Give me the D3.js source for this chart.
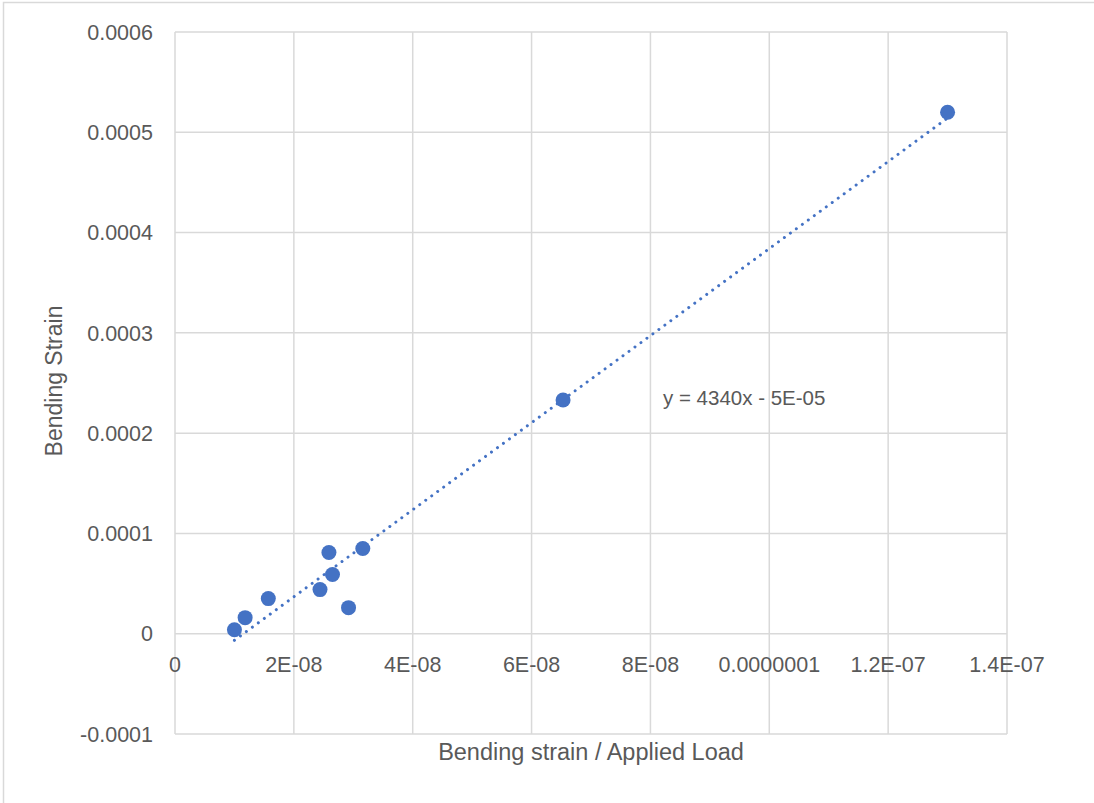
<!DOCTYPE html>
<html>
<head>
<meta charset="utf-8">
<script src="https://cdn.jsdelivr.net/npm/d3@7"></script>
<style>
  body { margin: 0; background: #fff; }
  text { font-family: "Liberation Sans", Arial, sans-serif; fill: #595959; }
</style>
</head>
<body>
<div id="chart"></div>
<script>
// values
var xVals = [1.0e-8, 1.18e-8, 1.57e-8, 2.44e-8, 2.59e-8, 2.65e-8, 2.92e-8, 3.16e-8, 6.53e-8, 1.30e-7];
var yVals = [4e-6, 1.6e-5, 3.5e-5, 4.4e-5, 8.1e-5, 5.9e-5, 2.6e-5, 8.5e-5, 2.33e-4, 5.2e-4];
var xTicks = [0, 2e-8, 4e-8, 6e-8, 8e-8, 1e-7, 1.2e-7, 1.4e-7];
var xTickLabels = ["0", "2E-08", "4E-08", "6E-08", "8E-08", "0.0000001", "1.2E-07", "1.4E-07"];
var yTicks = [-0.0001, 0, 0.0001, 0.0002, 0.0003, 0.0004, 0.0005, 0.0006];
var yTickLabels = ["-0.0001", "0", "0.0001", "0.0002", "0.0003", "0.0004", "0.0005", "0.0006"];
var trendSlope = 4340;
var trendIntercept = -5e-5;
var trendLabel = "y = 4340x - 5E-05";

var w = 1094, h = 803;
// plot area edges ("top" is taken by window.top)
var padLeft = 175, padRight = 1007, padTop = 32, padBottom = 734;

var svg = d3.select("#chart").append("svg")
    .attr("width", w)
    .attr("height", h);

// chart frame (only top/left visible in the crop)
svg.append("rect")
    .attr("x", 3.5).attr("y", 2.5)
    .attr("width", 1200).attr("height", 1000)
    .attr("fill", "none")
    .attr("stroke", "#d9d9d9")
    .attr("stroke-width", 1.5);

var xScale = d3.scaleLinear().domain([0, 1.4e-7]).range([padLeft, padRight]);
var yScale = d3.scaleLinear().domain([-0.0001, 0.0006]).range([padBottom, padTop]);

// gridlines
svg.append("g").selectAll("line")
    .data(xTicks)
    .enter().append("line")
    .attr("x1", function(d) { return xScale(d); })
    .attr("x2", function(d) { return xScale(d); })
    .attr("y1", padTop).attr("y2", padBottom)
    .attr("stroke", "#d9d9d9")
    .attr("stroke-width", 1.5);

svg.append("g").selectAll("line")
    .data(yTicks)
    .enter().append("line")
    .attr("y1", function(d) { return yScale(d); })
    .attr("y2", function(d) { return yScale(d); })
    .attr("x1", padLeft).attr("x2", padRight)
    .attr("stroke", "#d9d9d9")
    .attr("stroke-width", 1.5);

// y tick labels
svg.append("g").selectAll("text")
    .data(yTicks)
    .enter().append("text")
    .attr("x", padLeft - 22)
    .attr("y", function(d) { return yScale(d); })
    .attr("dy", "0.36em")
    .attr("text-anchor", "end")
    .style("font-size", "21.5px")
    .text(function(d, i) { return yTickLabels[i]; });

// x tick labels sit just below the zero line
svg.append("g").selectAll("text")
    .data(xTicks)
    .enter().append("text")
    .attr("x", function(d) { return xScale(d); })
    .attr("y", yScale(0) + 31)
    .attr("dy", "0.36em")
    .attr("text-anchor", "middle")
    .style("font-size", "21.5px")
    .text(function(d, i) { return xTickLabels[i]; });

// trendline
var xMin = d3.min(xVals), xMax = d3.max(xVals);
var trendPts = [xMin, xMax].map(function(x) { return [x, trendSlope * x + trendIntercept]; });
svg.append("line")
    .attr("x1", xScale(trendPts[0][0]))
    .attr("y1", yScale(trendPts[0][1]))
    .attr("x2", xScale(trendPts[1][0]))
    .attr("y2", yScale(trendPts[1][1]))
    .attr("stroke", "#4472c4")
    .attr("stroke-width", 3)
    .attr("stroke-linecap", "round")
    .attr("stroke-dasharray", "0.01 7.4");

// points
svg.append("g").selectAll("circle")
    .data(xVals)
    .enter().append("circle")
    .attr("cx", function(d) { return xScale(d); })
    .attr("cy", function(d, i) { return yScale(yVals[i]); })
    .attr("r", 7.5)
    .attr("fill", "#4472c4");

svg.append("text")
    .attr("x", 663)
    .attr("y", 398)
    .attr("dy", "0.36em")
    .style("font-size", "20.5px")
    .text(trendLabel);

// axis titles
svg.append("text")
    .attr("x", (padLeft + padRight) / 2)
    .attr("y", 760)
    .attr("text-anchor", "middle")
    .style("font-size", "23.5px")
    .text("Bending strain / Applied Load");

svg.append("text")
    .attr("transform", "translate(62,381) rotate(-90)")
    .attr("text-anchor", "middle")
    .style("font-size", "23px")
    .text("Bending Strain");
</script>
</body>
</html>
